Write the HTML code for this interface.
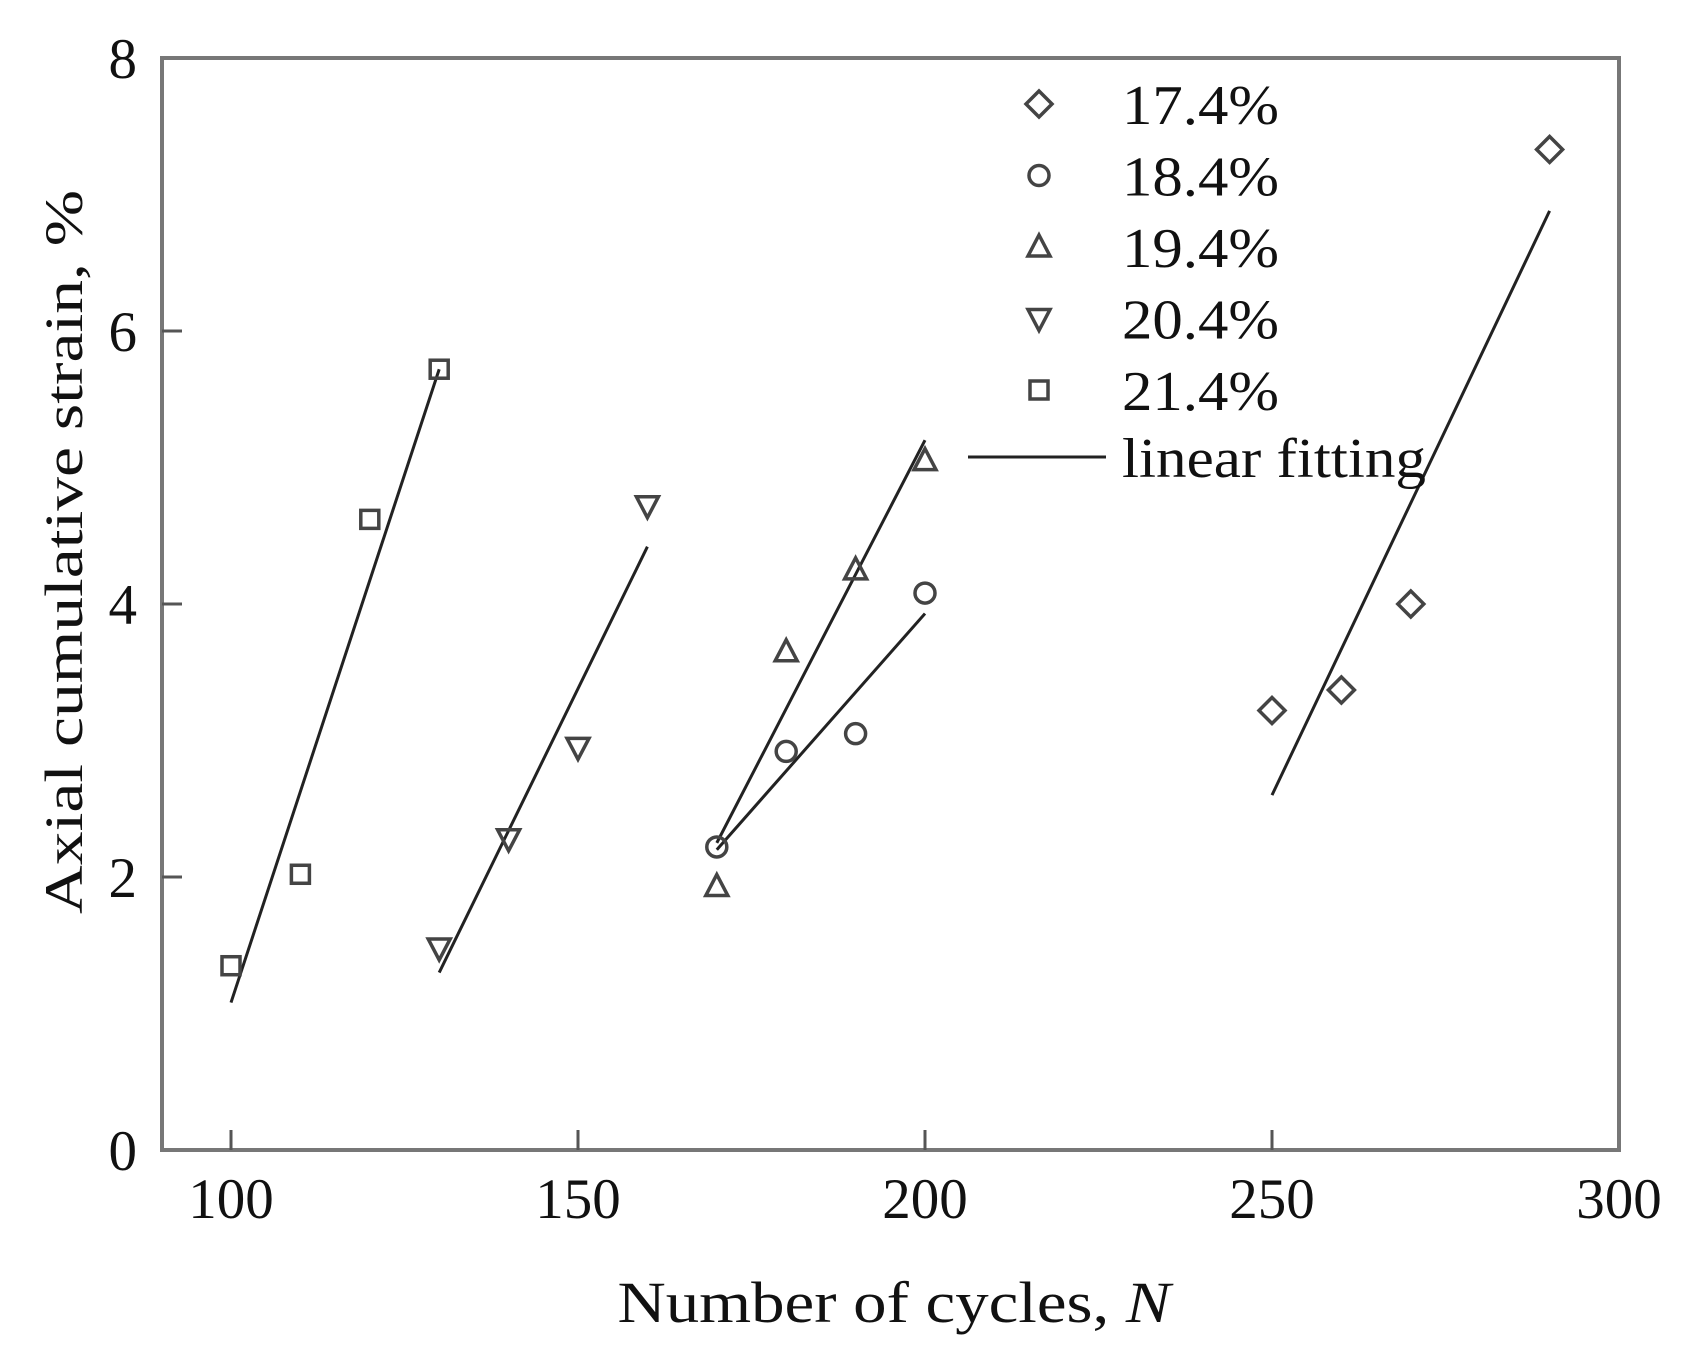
<!DOCTYPE html>
<html><head><meta charset="utf-8"><style>
body{margin:0;background:#fff}
svg text{font-family:"Liberation Serif",serif;fill:#111}
</style></head><body>
<svg id="c" width="1697" height="1358" viewBox="0 0 1697 1358" xmlns="http://www.w3.org/2000/svg">
<rect x="162" y="58" width="1457" height="1092" fill="none" stroke="#777" stroke-width="4"/>
<g id="ax"></g><g id="marks"></g>
<text x="894" y="1322" font-size="58" text-anchor="middle" textLength="553" lengthAdjust="spacingAndGlyphs">Number of cycles, <tspan font-style="italic">N</tspan></text>
<text transform="translate(82,552) rotate(-90)" font-size="54" text-anchor="middle" textLength="724" lengthAdjust="spacingAndGlyphs">Axial cumulative strain, %</text>
<g id="legend"></g>
</svg>
<script>
const xTicks=[100,150,200,250,300];
const yTicks=[0,2,4,6,8];
const seriesLabels=["17.4%","18.4%","19.4%","20.4%","21.4%"];
const seriesShapes=["diamond","circle","tri-up","tri-down","square"];
const seriesX=[[250,260,270,290],[170,180,190,200],[170,180,190,200],[130,140,150,160],[100,110,120,130]];
const seriesY=[[3.22,3.37,4.0,7.33],[2.22,2.92,3.05,4.08],[1.93,3.65,4.25,5.05],[1.48,2.28,2.95,4.72],[1.35,2.02,4.62,5.72]];
const fitX=[[250,290],[170,200],[170,200],[130,160],[100,130]];
const fitY=[[2.6,6.88],[2.2,3.93],[2.25,5.2],[1.3,4.42],[1.08,5.72]];
const NS="http://www.w3.org/2000/svg";
const X=v=>231+(v-100)*6.94, Y=v=>1150-v*136.5;
function mk(t,a,p){const e=document.createElementNS(NS,t);for(const k in a)e.setAttribute(k,a[k]);p.appendChild(e);return e;}
const ax=document.getElementById('ax');
xTicks.forEach(t=>{
 if(t<300){const l=mk('line',{x1:X(t),x2:X(t),y1:1150,y2:1130,stroke:'#555','stroke-width':3},ax);
 
 }
 const tx=mk('text',{x:X(t),y:1218,'font-size':57,'text-anchor':'middle'},ax);tx.textContent=t;
 
 
});
yTicks.forEach(t=>{
 if(t>0&&t<8){const l=mk('line',{x1:162,x2:182,y1:Y(t),y2:Y(t),stroke:'#555','stroke-width':3},ax);
 
 }
 const tx=mk('text',{x:137,y:Y(t)+20,'font-size':57,'text-anchor':'end'},ax);tx.textContent=t;
 
 
});
function shape(s,cx,cy,p){
 const st={fill:'none',stroke:'#444','stroke-width':3.5};let e;
 if(s=='diamond')e=mk('polygon',Object.assign({points:`${cx},${cy-13} ${cx+13},${cy} ${cx},${cy+13} ${cx-13},${cy}`},st),p);
 else if(s=='circle')e=mk('circle',Object.assign({cx:cx,cy:cy,r:10},st),p);
 else if(s=='tri-up')e=mk('polygon',Object.assign({points:`${cx},${cy-12} ${cx+11},${cy+9} ${cx-11},${cy+9}`},st),p);
 else if(s=='tri-down')e=mk('polygon',Object.assign({points:`${cx},${cy+12} ${cx+11},${cy-9} ${cx-11},${cy-9}`},st),p);
 else e=mk('rect',Object.assign({x:cx-9,y:cy-9,width:18,height:18},st),p);
 return e;
}
const mg=document.getElementById('marks');
fitX.forEach((fx,i)=>{
 const l=mk('line',{x1:X(fx[0]),y1:Y(fitY[i][0]),x2:X(fx[1]),y2:Y(fitY[i][1]),stroke:'#222','stroke-width':3},mg);
 
 
});
seriesX.forEach((xs,i)=>xs.forEach((x,j)=>{
 const e=shape(seriesShapes[i],X(x),Y(seriesY[i][j]),mg);
 
 
}));
const lg=document.getElementById('legend');
seriesLabels.forEach((lab,i)=>{
 const y=104+i*71.5;
 const e=shape(seriesShapes[i],1039,y,lg);
 
 
 const t=mk('text',{x:1122,y:y+20,'font-size':56,textLength:157,lengthAdjust:'spacingAndGlyphs'},lg);t.textContent=lab;
 
 
});
const ll=mk('line',{x1:968,x2:1106,y1:457,y2:457,stroke:'#222','stroke-width':3},lg);


const lt=mk('text',{x:1122,y:477,'font-size':56,textLength:304,lengthAdjust:'spacingAndGlyphs'},lg);lt.textContent='linear fitting';


</script>
</body></html>
